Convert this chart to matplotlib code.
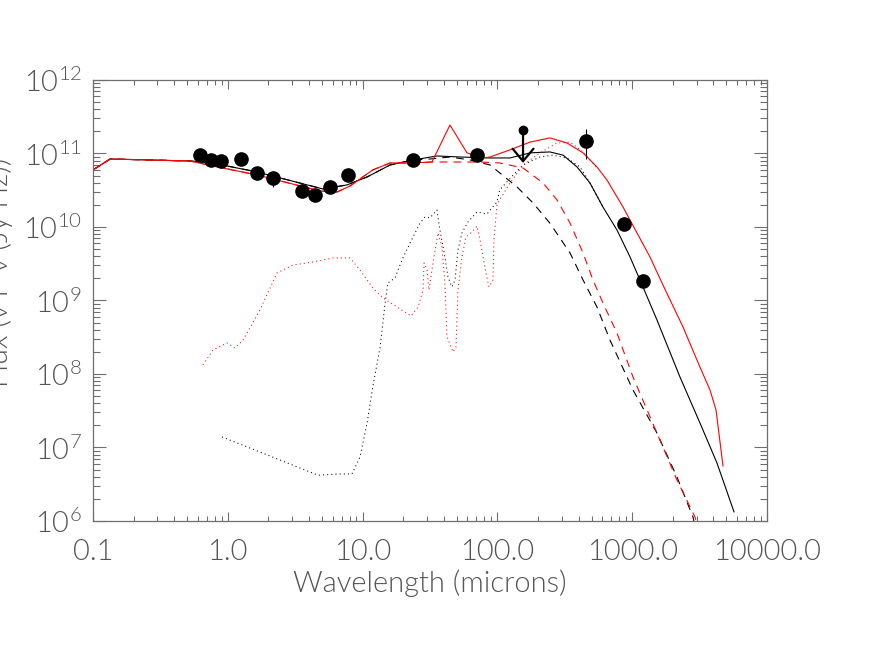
import numpy as np
import matplotlib
matplotlib.use("Agg")
import matplotlib.pyplot as plt

plt.rcParams["font.family"] = ["Lato", "DejaVu Sans"]
plt.rcParams["font.weight"] = 300
plt.rcParams["axes.labelweight"] = 300
plt.rcParams["mathtext.fontset"] = "custom"
plt.rcParams["mathtext.rm"] = "Lato:weight=300"
plt.rcParams["mathtext.it"] = "Lato:weight=300"

# photometry (microns, Jy Hz)
phot_wave = [0.62, 0.75, 0.89, 1.25, 1.65, 2.16, 3.55, 4.43, 5.7, 7.8, 23.6, 70.6, 454, 869, 1202]
phot_flux = [9.6e10, 8.1e10, 7.9e10, 8.5e10, 5.4e10, 4.6e10, 3.1e10, 2.7e10, 3.5e10, 5.1e10,
             8.1e10, 9.6e10, 1.48e11, 1.1e10, 1.84e9]
phot_err = [0, 0, 0, 0, 1.0e10, 1.1e10, 0, 0, 0, 0, 0, 0, 0.65e11, 0, 0]

# upper limit
ulim_wave = 155
ulim_flux = 2.08e11
ulim_tip = 7.43e10

# model 1 (black)
m1_tot_wave = [0.1, 0.134, 0.265, 0.525, 0.764, 1.65, 5.08, 7.65, 10.8, 16.0, 23.7, 35.6, 52.8,
               88.1, 124, 175, 245, 307, 390, 486, 607, 771, 964, 1202, 1527, 2262, 3184, 4256, 5693]
m1_tot_flux = [5.97e10, 8.41e10, 8.16e10, 7.9e10, 7.43e10, 5.6e10, 3.29e10, 3.73e10, 4.79e10, 6.98e10,
               8.16e10, 9.25e10, 8.96e10, 8.69e10, 8.69e10, 1.02e11, 1.05e11, 9.5e10, 6.55e10, 3.97e10,
               1.87e10, 9.1e9, 3.91e9, 1.53e9, 5.43e8, 9.1e7, 2.15e7, 6.15e6, 1.33e6]

m1_star_wave = [0.1, 0.134, 0.265, 0.525, 0.764, 1.65, 5.08, 7.65, 10.8, 16.0, 23.7, 31.6, 44.5,
                62.7, 88.1, 140, 184, 245, 346, 432, 548, 684, 1014, 1527, 2148, 2825, 3027]
m1_star_flux = [5.97e10, 8.41e10, 8.16e10, 7.9e10, 7.43e10, 5.6e10, 3.29e10, 3.73e10, 4.79e10, 6.98e10,
                8.16e10, 8.41e10, 8.96e10, 8.16e10, 6.98e10, 3.5e10, 2.12e10, 1.13e10, 4.43e9, 1.9e9,
                8.16e8, 2.9e8, 6.06e7, 1.57e7, 3.97e6, 1.13e6, 6.4e5]

m1_dust_wave = [0.906, 1.73, 3.43, 4.67, 6.79, 8.34, 9.57, 10.8, 11.9, 13.5, 14.7, 15.4, 17.4, 19.6,
                22.5, 26.7, 29.0, 31.6, 35.6, 37.5, 40.8, 43.0, 46.0, 48.5, 51.0, 54.6, 60.5, 70.6,
                83.7, 99.3, 104, 131, 155, 207, 258, 328, 410, 486, 607]
m1_dust_flux = [1.39e7, 8.69e6, 5.26e6, 4.2e6, 4.36e6, 4.36e6, 7.43e6, 2.15e7, 6.65e7, 2.33e8, 9.25e8,
                1.73e9, 2.02e9, 3.56e9, 6.06e9, 1.13e10, 1.37e10, 1.33e10, 1.7e10, 9.1e9, 3.91e9, 2.09e9,
                1.53e9, 1.9e9, 4.86e9, 8.29e9, 1.17e10, 1.6e10, 1.5e10, 2.19e10, 3.19e10, 5.1e10, 6.98e10,
                8.96e10, 9.5e10, 8.69e10, 6.55e10, 3.97e10, 1.87e10]

# model 2 (red)
m2_tot_wave = [0.1, 0.134, 0.265, 0.525, 0.776, 1.65, 4.83, 6.46, 8.07, 11.9, 16.0, 22.5, 32.7, 44.5,
               59.5, 78.2, 88.1, 124, 175, 245, 328, 432, 548, 650, 855, 1086, 1355, 1690, 2382, 3184,
               3777, 4186, 4718]
m2_tot_flux = [5.97e10, 8.41e10, 8.16e10, 7.9e10, 6.76e10, 5.1e10, 3.09e10, 2.99e10, 3.61e10, 5.97e10,
               7.43e10, 7.43e10, 7.66e10, 2.44e11, 1.02e11, 8.69e10, 8.96e10, 1.12e11, 1.43e11, 1.63e11,
               1.39e11, 1.02e11, 6.55e10, 4.36e10, 1.87e10, 8.29e9, 3.91e9, 1.63e9, 4.36e8, 1.24e8,
               6.06e7, 3.24e7, 5.6e6]

m2_star_wave = [0.1, 0.134, 0.265, 0.525, 0.776, 1.65, 4.83, 6.46, 8.07, 11.9, 16.0, 22.5, 32.7, 48.5,
                74.3, 104, 155, 218, 277, 346, 432, 512, 607, 771, 1014, 1527, 2148, 2924, 3184]
m2_star_flux = [5.97e10, 8.41e10, 8.16e10, 7.9e10, 6.76e10, 5.1e10, 3.09e10, 2.99e10, 3.61e10, 5.97e10,
                7.43e10, 7.43e10, 7.66e10, 7.66e10, 7.66e10, 7.43e10, 6.35e10, 3.97e10, 2.33e10, 1.13e10,
                4.43e9, 1.9e9, 9.25e8, 3.61e8, 9.1e7, 1.57e7, 3.61e6, 1.13e6, 6.4e5]

m2_dust_wave = [0.655, 0.776, 0.987, 1.13, 1.30, 1.73, 2.32, 3.05, 4.29, 6.03, 8.07, 9.57, 11.9, 14.2,
                18.0, 22.9, 25.8, 28.1, 28.6, 30.1, 31.1, 33.3, 36.3, 38.8, 40.8, 42.3, 46.9, 49.3, 51.0,
                54.6, 58.5, 64.8, 70.6, 74.3, 82.3, 86.6, 92.7, 94.3, 99.3, 104, 124, 155, 207, 277, 346,
                432, 548]
m2_dust_flux = [1.33e8, 2.12e8, 2.64e8, 2.26e8, 2.9e8, 7.43e8, 2.37e9, 3.04e9, 3.34e9, 3.79e9, 3.79e9,
                2.6e9, 1.48e9, 1.08e9, 8.16e8, 6.15e8, 8.16e8, 1.39e9, 3.24e9, 2.6e9, 1.39e9, 3.24e9,
                8.29e9, 5.34e9, 1.73e9, 3.19e8, 1.99e8, 2.33e8, 1.39e9, 3.91e9, 7.31e9, 8.55e9, 1.03e10,
                6.65e9, 2.37e9, 1.53e9, 1.9e9, 6.65e9, 1.99e10, 2.33e10, 3.97e10, 6.98e10, 1.02e11,
                1.39e11, 1.43e11, 1.05e11, 6.4e10]

xtick_vals = [0.1, 1.0, 10.0, 100.0, 1000.0, 10000.0]
xtick_labels = ["0.1", "1.0", "10.0", "100.0", "1000.0", "10000.0"]
ytick_vals = [1e6, 1e7, 1e8, 1e9, 1e10, 1e11, 1e12]
ytick_labels = [r"$10^{%d}$" % p for p in range(6, 13)]

grey = "#6e6e6e"
text_grey = "#555555"
dot = (0, (1, 3))
dash = (0, (7, 5.5))

fig = plt.figure(figsize=(8.87, 6.54), dpi=100)
ax = fig.add_axes([0.1048, 0.2034, 0.7599, 0.6743])
ax.set_xscale("log")
ax.set_yscale("log")

# black model
ax.plot(m1_tot_wave, m1_tot_flux, color="black", lw=0.8)
ax.plot(m1_star_wave, m1_star_flux, color="black", lw=0.8, ls=dash)
ax.plot(m1_dust_wave, m1_dust_flux, color="black", lw=0.75, ls=dot)

# red model
ax.plot(m2_tot_wave, m2_tot_flux, color="red", lw=0.8)
ax.plot(m2_star_wave, m2_star_flux, color="red", lw=0.8, ls=dash)
ax.plot(m2_dust_wave, m2_dust_flux, color="red", lw=0.75, ls=dot)

# data
ax.errorbar(phot_wave, phot_flux, yerr=phot_err, fmt="o", color="black", ms=9.5,
            elinewidth=0.8, capsize=0)
ax.plot([ulim_wave], [ulim_flux], "o", color="black", ms=6)
ax.annotate("", xy=(ulim_wave, ulim_tip), xytext=(ulim_wave, ulim_flux),
            arrowprops=dict(arrowstyle="->,head_length=0.9,head_width=0.75", lw=1.6,
                            color="black", shrinkA=0, shrinkB=0))

ax.set_xlim(0.1, 10000)
ax.set_ylim(1e6, 1e12)
ax.set_xticks(xtick_vals)
ax.set_xticklabels(xtick_labels)
ax.set_yticks(ytick_vals)
ax.set_yticklabels(ytick_labels)

for s in ax.spines.values():
    s.set_color(grey)
    s.set_linewidth(0.9)

ax.tick_params(axis="both", which="both", direction="in", top=True, right=True,
               colors=grey, labelcolor=text_grey, labelsize=21, width=0.8)
ax.tick_params(axis="x", which="major", length=6.5, pad=13)
ax.tick_params(axis="x", which="minor", length=3.6)
ax.tick_params(axis="y", which="major", length=9.4, pad=8)
ax.tick_params(axis="y", which="minor", length=5)

ax.set_xlabel("Wavelength (microns)", fontsize=21, color=text_grey)
ax.xaxis.set_label_coords(0.5, -0.11)
fig.text(13 / 887, 1 - 272 / 654, "Flux (\u03bd F \u03bd (Jy Hz))", rotation=90,
         ha="right", va="center", fontsize=21, color=text_grey)

fig.savefig("out.png", dpi=100)
